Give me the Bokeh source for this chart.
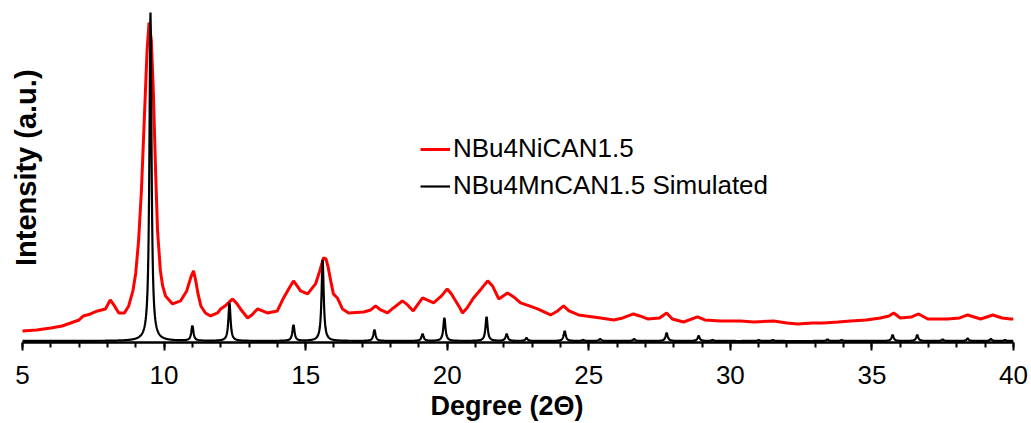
import numpy as np
from bokeh.plotting import figure
from bokeh.models import Range1d, Label, Legend, LegendItem, FixedTicker
from bokeh.embed import file_html
from bokeh.resources import INLINE

exp_x = [5.0, 5.5, 6.0, 6.4, 6.7, 7.0, 7.15, 7.4, 7.65, 7.93, 8.1, 8.25, 8.4, 8.6, 8.75,
         8.9, 9.0, 9.1, 9.2, 9.3, 9.4, 9.47, 9.55, 9.62, 9.7, 9.77, 9.87, 9.95, 10.05,
         10.3, 10.58, 10.8, 10.95, 11.04, 11.12, 11.2, 11.3, 11.46, 11.64, 11.89, 12.0,
         12.2, 12.42, 12.55, 12.7, 12.95, 13.1, 13.3, 13.65, 14.0, 14.22, 14.4, 14.57,
         14.7, 14.82, 15.07, 15.35, 15.5, 15.63, 15.72, 15.8, 15.9, 15.98, 16.12, 16.3,
         16.52, 17.05, 17.3, 17.47, 17.65, 17.89, 18.1, 18.42, 18.6, 18.8, 19.0, 19.13,
         19.52, 19.8, 20.0, 20.15, 20.3, 20.45, 20.54, 20.7, 20.93, 21.2, 21.43, 21.6,
         21.82, 22.13, 22.35, 22.59, 22.9, 23.19, 23.65, 23.9, 24.11, 24.3, 24.64, 24.9,
         25.42, 25.88, 26.2, 26.58, 26.8, 27.08, 27.5, 27.75, 27.95, 28.35, 28.84, 29.1,
         29.65, 30.36, 30.82, 31.53, 32.0, 32.38, 32.9, 33.3, 33.8, 34.25, 34.8, 35.3,
         35.6, 35.77, 36.0, 36.4, 36.65, 36.97, 37.67, 38.1, 38.38, 38.84, 39.27, 39.6,
         39.9, 40.0]
exp_y = [10, 11, 13, 15, 18, 21, 25, 27, 30, 32, 41, 35, 28, 28, 35,
         50, 68, 100, 150, 220, 290, 318, 300, 250, 170, 110, 70, 55, 45,
         37, 40, 50, 64, 70, 60, 47, 35, 28, 25, 28, 32,
         36, 42, 38, 32, 23, 26, 32, 28, 30, 43, 52, 60,
         55, 50, 47, 57, 70, 83, 82, 73, 58, 47, 43, 32,
         28, 29, 31, 35, 31, 28, 33, 40, 36, 30, 38, 43,
         38, 45, 52, 47, 40, 33, 28, 33, 43, 52, 60, 55,
         42, 48, 44, 38, 35, 32, 26, 30, 35, 30, 26, 25,
         23, 21, 23, 27, 25, 22, 23, 28, 22, 19, 24, 21,
         20, 20, 19, 20, 18, 17, 18, 18, 19, 20, 21, 23,
         25, 28, 23, 24, 27, 22, 22, 23, 26, 22, 26, 23,
         22, 22]

# Simulated pattern: peak positions and heights
sim_pos = [9.52, 11.0, 12.31, 14.57, 15.6, 17.43, 19.13, 19.9, 21.39, 22.1, 22.8,
           24.15, 24.8, 25.4, 26.6, 27.75, 28.88, 29.37, 31.0, 31.5, 33.43, 33.93,
           35.73, 36.6, 37.5, 38.38, 39.2, 39.7]
sim_h = [328, 15, 38, 16, 81, 11, 7, 23, 24, 7, 3,
         10, 1, 2, 2, 8, 5, 1, 1, 1, 1.5, 1,
         6, 6, 1.5, 2.5, 2, 1]

x_ticks = [5, 10, 15, 20, 25, 30, 35, 40]
series_names = ["NBu4NiCAN1.5", "NBu4MnCAN1.5 Simulated"]

# simulated profile built from the peak list (Lorentzian line shape)
gamma = 0.045
sim_x = np.round(np.arange(5.0, 40.0001, 0.01), 2)
sim_y = np.zeros_like(sim_x)
for c, h in zip(sim_pos, sim_h):
    sim_y += h * gamma**2 / ((sim_x - c) ** 2 + gamma**2)

FONT = "Liberation Sans"
PX_PER_DEG = 991 / 35.0
x_start = 5 - 22 / PX_PER_DEG

p = figure(width=1031, height=423, output_backend="svg", toolbar_location=None,
           x_range=Range1d(x_start, 40), y_range=Range1d(-1.5, 330),
           y_axis_location=None,
           min_border_left=0, min_border_right=18, min_border_top=10,
           min_border_bottom=81)
p.outline_line_color = None
p.xgrid.visible = False
p.ygrid.visible = False
p.background_fill_color = "white"
p.border_fill_color = "white"

r_exp = p.line(exp_x, exp_y, line_color="#ff0000", line_width=3)
r_sim = p.line(sim_x, sim_y, line_color="black", line_width=2.2)

xa = p.xaxis[0]
xa.bounds = (5, 40)
xa.ticker = FixedTicker(ticks=x_ticks, minor_ticks=list(range(5, 41)))
xa.axis_line_color = "black"
xa.axis_line_width = 2.5
xa.major_tick_line_color = "black"
xa.major_tick_line_width = 2
xa.major_tick_out = 8
xa.major_tick_in = 0
xa.minor_tick_line_color = "black"
xa.minor_tick_line_width = 2
xa.minor_tick_out = 5
xa.minor_tick_in = 0
xa.major_label_text_font = FONT
xa.major_label_text_font_size = "26px"
xa.major_label_text_color = "black"
xa.major_label_standoff = 15
xa.axis_label = "Degree (2\u0398)"
xa.axis_label_text_font = FONT
xa.axis_label_text_font_size = "27px"
xa.axis_label_text_font_style = "bold"
xa.axis_label_text_color = "black"
xa.axis_label_standoff = 4

ylab = Label(x=5.14, y=173, text="Intensity (a.u.)", angle=np.pi / 2,
             text_align="center", text_baseline="middle",
             text_font=FONT, text_font_size="29px", text_font_style="bold",
             text_color="black")
p.add_layout(ylab)

legend = Legend(items=[LegendItem(label=series_names[0], renderers=[r_exp]),
                       LegendItem(label=series_names[1], renderers=[r_sim])],
                location=(420, 141), padding=0, margin=0, spacing=6,
                glyph_width=30, label_standoff=3,
                label_text_font=FONT, label_text_font_size="26px",
                label_text_color="black",
                border_line_color=None, background_fill_alpha=0)
p.add_layout(legend)

open("out.html", "w").write(file_html(p, INLINE))
